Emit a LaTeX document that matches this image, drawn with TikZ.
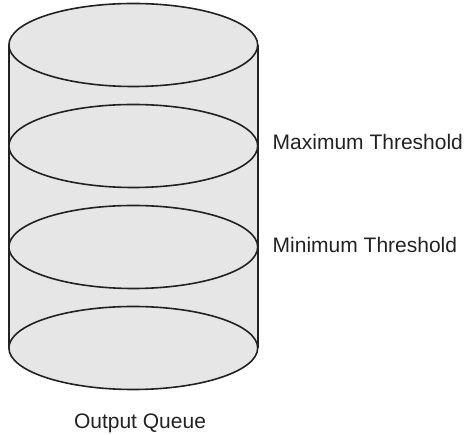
\documentclass[tikz,border=0pt]{standalone}
\usepackage{fontspec}
\setmainfont{Liberation Sans}
\usetikzlibrary{positioning}
\definecolor{qgray}{HTML}{E6E6E6}
\definecolor{qline}{HTML}{222222}

\begin{document}
\begin{tikzpicture}[x=1pt,y=-1pt,qdisk/.style={draw=qline,fill=qgray,line width=1.6pt},qlabel/.style={font=\fontsize{21}{24}\selectfont,text=qline,inner sep=0pt}]
		\useasboundingbox (0,0) rectangle (464,435);
		\coordinate (top) at (133.3,45);
		\coordinate (max) at (133.3,146);
		\coordinate (min) at (133.3,247);
		\coordinate (bot) at (133.3,348);
		% body of the queue
		\fill[qgray] (8.9,45) rectangle (257.7,348);
		\draw[qline,line width=1.6pt] (8.9,45) -- (8.9,348) (257.7,45) -- (257.7,348);
		\foreach \lvl in {bot,min,max,top}
			\draw[qdisk] (\lvl) ellipse [x radius=124.4pt, y radius=41.5pt];
		\node[qlabel,anchor=base west] (maxlbl) at (272.5,150) {Maximum Threshold};
		\node[qlabel,anchor=base west] (minlbl) at (272.5,252.7) {Minimum Threshold};
		\node[qlabel,anchor=base] (queue) at (140,429) {Output Queue};
	\end{tikzpicture}
\end{document}
